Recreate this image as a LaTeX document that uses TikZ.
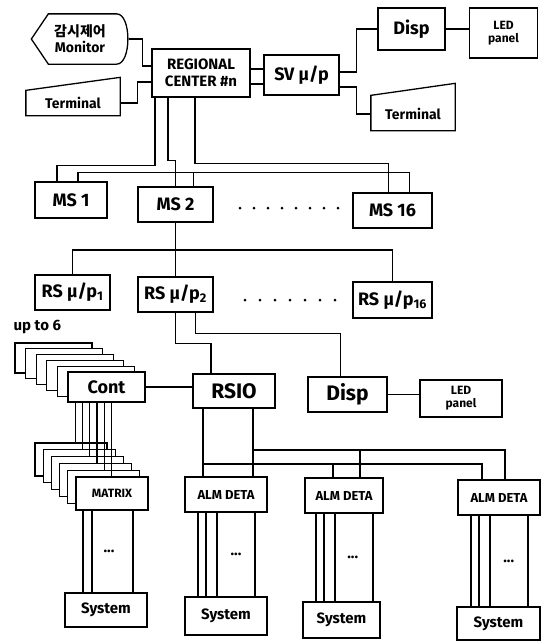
\documentclass[tikz,border=0pt]{standalone}
\usepackage{fontspec}
\setmainfont{Fira Sans}
\newfontfamily\krfont{Noto Sans CJK KR}
\usetikzlibrary{calc}

\begin{document}
\begin{tikzpicture}[x=1pt,y=-1pt,line width=1.3pt,font=\bfseries\fontsize{15}{17}\selectfont,
  box/.style={draw,fill=white,inner sep=1pt,align=center,minimum width=#1,minimum height=34pt},
  box/.default=78pt,
  lbl/.style={inner sep=1pt,align=center},
  small/.style={font=\bfseries\fontsize{12}{13}\selectfont},
  big/.style={font=\bfseries\fontsize{18}{20}\selectfont}]
  \useasboundingbox (0,0) rectangle (547,643);

  % regional center level
  \node[lbl,minimum width=96pt,minimum height=49pt,font=\bfseries\fontsize{14}{16}\selectfont] (mon) at (80,39) {{\krfont 감시제어}\\Monitor};
  \draw (mon.west) -- ([xshift=17pt]mon.north west) -- ([xshift=-12pt]mon.north east)
    .. controls ([xshift=3pt]mon.north east) and ([xshift=3pt]mon.south east) .. ([xshift=-12pt]mon.south east)
    -- ([xshift=17pt]mon.south west) -- cycle;
  \node[lbl,font=\bfseries\fontsize{14}{16}\selectfont,minimum width=93pt,minimum height=24pt] (term1) at (73,103) {Terminal};
  \draw (term1.south west) -- (term1.south east) -- ([yshift=13pt]term1.north east) -- (term1.north west) -- cycle;
  \node[box=98pt,minimum height=48pt] (rc) at (201,73) {REGIONAL\\CENTER \#n};
  \node[box=75pt,minimum height=40pt,big] (sv) at (301.5,75) {SV μ/p};
  \node[box=67pt,minimum height=42pt,big] (disp1) at (411.5,29) {Disp};
  \node[box=68pt,minimum height=50pt,small] (led1) at (503.5,33) {LED\\panel};
  \node[lbl,font=\bfseries\fontsize{14}{16}\selectfont,minimum width=83pt,minimum height=32pt] (term2) at (413,114) {Terminal};
  \draw (term2.south west) -- (term2.south east) -- ([yshift=14pt]term2.north east) -- ([yshift=2pt]term2.north west) -- cycle;

  \draw (mon.east) -- ++(14,0) |- ([yshift=7pt]rc.west);
  \draw (term1.east) -- ++(17,0) |- ([yshift=-9pt]rc.west);
  \draw ([yshift=4pt]rc.east) -- ([yshift=4pt]rc.east -| sv.west);
  \draw ([yshift=-11pt]rc.east) -- ([yshift=-11pt]rc.east -| sv.west);
  \draw ([yshift=3pt]sv.east) -- ++(17,0) |- (disp1.west);
  \draw ([yshift=-12pt]sv.east) -- ++(17,0) |- (term2.west);
  \draw (disp1.east) -- (disp1.east -| led1.west);

  % MS level
  \node[box=72pt,minimum height=36pt,big] (ms1) at (71,200) {MS 1};
  \node[box=75pt,minimum height=35pt,big] (ms2) at (175.5,204.5) {MS 2};
  \node[box=79pt,minimum height=35pt,big] (ms16) at (392.5,210.5) {MS 16};
  \foreach \i in {0,...,7}
    \fill (240+14*\i,208) circle (1.5pt);

  \draw ([xshift=-46pt]rc.south) -- ++(0,68) -| ([xshift=-14pt]ms1.north);
  \draw ([xshift=-33pt]rc.south) -- ++(0,63) -| (ms2.north);
  \draw ([xshift=-6pt]rc.south) -- ++(0,66) -| ([xshift=-4pt]ms16.north);
  \draw ([xshift=7pt]ms1.north) -- ++(0,-9) -| ([xshift=17pt]ms16.north);
  \draw ([xshift=18pt]ms2.north) -- ++(0,-14);

  % RS level
  \node[box=75pt,minimum height=35pt,big] (rs1) at (72.5,292.5) {RS μ/p\textsubscript{1}};
  \node[box=75pt,minimum height=35pt,big] (rs2) at (175.5,294.5) {RS μ/p\textsubscript{2}};
  \node[box=79pt,minimum height=36pt,big] (rs16) at (392.5,300) {RS μ/p\textsubscript{16}};
  \foreach \i in {0,...,6}
    \fill (245+15*\i,300) circle (1.5pt);
  \coordinate (msj) at (175.5,250);
  \draw (ms2.south) -- (rs2.north);
  \draw (rs1.north) |- (msj) -| (rs16.north);

  % station level
  \node[lbl,anchor=west] (upto) at (12,327) {up to 6};
  \foreach \k in {5,...,1}
    \node[box=77pt,minimum height=30pt] (cont\k) at ({106.5-10.6*\k},{387-5.8*\k}) {};
  \node[box=77pt,minimum height=30pt,big] (cont0) at (106.5,387) {Cont};
  \node[box=82pt,minimum height=34pt,font=\bfseries\fontsize{21}{23}\selectfont] (rsio) at (234,391) {RSIO};
  \node[box=79pt,minimum height=35pt,font=\bfseries\fontsize{21}{23}\selectfont] (disp2) at (347.5,394.5) {Disp};
  \node[box=82pt,minimum height=37pt,small] (led2) at (461,398.5) {LED\\panel};

  \draw (rs2.south) -- ++(0,31) -| ([xshift=-23pt]rsio.north);
  \draw ([xshift=20pt]rs2.south) -- ++(0,21) -| ([xshift=-7pt]disp2.north);
  \draw (cont0.east) -- (cont0.east -| rsio.west);
  \draw (disp2.east) -- (disp2.east -| led2.west);

  % detector level
  \foreach \k in {5,...,1}
    \node[box=72pt,minimum height=33pt] (mx\k) at ({112-8.2*\k},{493.5-6.8*\k}) {};
  \node[box=72pt,minimum height=33pt,small] (mx0) at (112,493.5) {MATRIX};
  \node[box=82pt,minimum height=35pt,font=\bfseries\fontsize{13}{15}\selectfont] (alm1) at (226,494.5) {ALM DETA};
  \node[box=78pt,minimum height=35pt,font=\bfseries\fontsize{13}{15}\selectfont] (alm2) at (344,495.5) {ALM DETA};
  \node[box=82pt,minimum height=35pt,font=\bfseries\fontsize{13}{15}\selectfont] (alm3) at (499,497.5) {ALM DETA};

  \foreach \i in {0,...,5}{
    \pgfmathtruncatemacro\j{5-\i}
    \pgfmathsetmacro\dx{8+7.2*\i}
    \draw ([xshift=\dx pt]cont0.south west) -- ([xshift=\dx pt]cont0.south west |- mx\j.north);
  }

  \coordinate (ub) at (253,450);
  \coordinate (lb) at (203,464);
  \draw ([xshift=-31pt]rsio.south) -- ([xshift=-31pt]rsio.south |- alm1.north);
  \draw ([xshift=19pt]rsio.south) -- ([xshift=19pt]rsio.south |- alm1.north);
  \draw (ub) -| ([xshift=6pt]alm3.north);
  \draw (lb) -| ([xshift=-17pt]alm3.north);
  \draw ([xshift=16pt]alm2.north) -- ([xshift=16pt]alm2.north |- ub);
  \draw ([xshift=-11pt]alm2.north) -- ([xshift=-11pt]alm2.north |- lb);

  % systems
  \node[box=82pt,minimum height=34pt] (sys0) at (106,610) {System};
  \node[box=82pt,minimum height=38pt] (sys1) at (226,616) {System};
  \node[box=77pt,minimum height=36pt] (sys2) at (341.5,620) {System};
  \node[box=83pt,minimum height=33pt] (sys3) at (498.5,623.5) {System};

  \foreach \d in {-29,-20,21}
    \draw ([xshift=\d pt]mx0.south) -- ([xshift=\d pt]mx0.south |- sys0.north);
  \node (dots0) at ($(mx0.south)!0.5!(sys0.north)$) {...};
  \foreach \a/\s in {alm1/sys1,alm2/sys2,alm3/sys3}{
    \foreach \d in {-28,-20,-9,29}
      \draw ([xshift=\d pt]\a.south) -- ([xshift=\d pt]\a.south |- \s.north);
    \node (dots\s) at ($(\a.south)!0.5!(\s.north)+(10,0)$) {...};
  }
\end{tikzpicture}
\end{document}
